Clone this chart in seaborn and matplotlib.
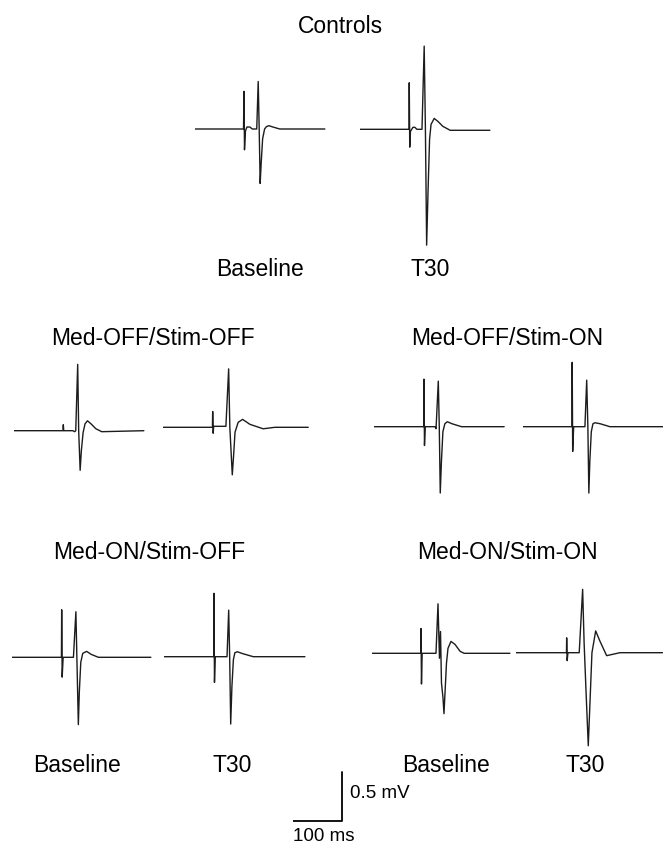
import matplotlib
matplotlib.use("Agg")
import matplotlib.pyplot as plt
import seaborn as sns
import pandas as pd

# ---------------- data (time in ms from trace start, amplitude in mV) ----------------
ctrl_base_t = [0, 99, 100, 101, 103, 106, 112, 117, 126, 129, 131, 133, 135, 138, 142, 146, 151, 159, 173, 265]
ctrl_base_v = [0, 0, 0.38, -0.21, -0.02, 0.02, 0.02, 0, 0, 0.48, 0.0, -0.55, -0.35, -0.10, 0.0, 0.025, 0.033, 0.02, 0, 0]

ctrl_t30_t = [0, 100, 100.5, 101.5, 103, 108, 112, 116, 126.5, 131, 133.5, 136, 139, 142, 145, 151.5, 159, 169, 184, 265]
ctrl_t30_v = [0, 0, 0.47, -0.18, -0.02, 0.02, 0.02, 0, 0, 0.84, 0, -1.17, -0.6, -0.1, 0.05, 0.11, 0.08, 0.03, -0.01, -0.01]

offoff_base_t = [0, 100, 100.6, 101.5, 120, 124, 126, 130, 132, 135, 137.5, 141, 145, 150, 157, 167, 179, 265]
offoff_base_v = [0, 0, 0.06, 0, 0, -0.01, 0, 0.67, 0, -0.40, -0.2, -0.02, 0.07, 0.10, 0.07, 0.02, -0.01, 0]

offoff_t30_t = [0, 101.5, 102, 103, 104, 129, 134.6, 137, 142, 144.5, 147.6, 154, 163, 178, 205, 229, 297]
offoff_t30_v = [0, 0, 0.16, -0.06, 0.01, 0.01, 0.59, 0, -0.48, -0.3, -0.05, 0.05, 0.08, 0.03, -0.015, 0, 0]

offon_base_t = [0, 101, 101.4, 102.4, 104, 124, 126, 130.6, 132.6, 134.6, 137, 140, 144, 149, 158.5, 178, 265]
offon_base_v = [0, 0, 0.48, -0.19, 0, 0, -0.02, 0.46, 0, -0.67, -0.35, -0.05, 0.03, 0.05, 0.03, 0, 0]

offon_t30_t = [0, 100.5, 101, 102, 104, 127, 130.6, 133, 135, 137, 140, 143.4, 147.5, 158, 178, 286]
offon_t30_v = [0, 0, 0.65, -0.25, 0, 0, 0.47, 0, -0.67, -0.35, -0.05, 0.03, 0.04, 0.03, 0, 0]

onoff_base_t = [0, 101.5, 102, 103, 105, 126, 131, 133, 136, 138, 141, 145, 153, 162, 177, 284]
onoff_base_v = [0, 0, 0.48, -0.20, 0, 0, 0.46, 0, -0.68, -0.35, -0.05, 0.04, 0.06, 0.03, 0, 0]

onoff_t30_t = [0, 101, 101.4, 102.4, 104, 128, 131.4, 133.4, 135.5, 138, 141, 144, 149, 160.5, 181.6, 287]
onoff_t30_v = [0, 0, 0.64, -0.26, 0, 0, 0.47, 0, -0.68, -0.3, -0.03, 0.04, 0.05, 0.03, 0, 0]

onon_base_t = [0, 100, 100.6, 101.6, 103, 131.2, 135.3, 138.3, 140.4, 142.4, 145.5, 147.5, 149.6, 152.6, 155.7, 161.8, 170, 180.4, 188.7, 282]
onon_base_v = [0, 0, 0.25, -0.31, 0, 0, 0.50, -0.05, 0.22, -0.3, -0.45, -0.61, -0.4, -0.1, 0.05, 0.12, 0.09, 0.02, 0, 0]

onon_t30_t = [0, 103, 103.4, 104.4, 106, 129, 136, 139, 143, 147.5, 151, 155, 162.6, 171, 185, 212, 299]
onon_t30_v = [0, 0, 0.15, -0.08, 0, 0, 0.64, 0.1, -0.4, -0.94, -0.5, 0, 0.22, 0.12, -0.03, 0, 0]

scale_t = [0, 100, 100]
scale_v = [0, 0, 0.5]

group_titles = ["Controls", "Med-OFF/Stim-OFF", "Med-OFF/Stim-ON", "Med-ON/Stim-OFF", "Med-ON/Stim-ON"]
cond_labels = ["Baseline", "T30"]
scale_labels = ["0.5 mV", "100 ms"]

# ---------------- layout ----------------
W, H = 663, 847
PX_PER_MS = 0.49
PX_PER_MV = 99.0
XLIM = (0, 310)
YLIM = (-1.3, 0.95)

sns.set_theme(style="white")
plt.rcParams["font.family"] = ["Liberation Sans", "DejaVu Sans"]

fig = plt.figure(figsize=(W / 100, H / 100), dpi=100)
fig.patch.set_facecolor("white")


def trace_axes(left_px, base_px):
    w = (XLIM[1] - XLIM[0]) * PX_PER_MS
    h = (YLIM[1] - YLIM[0]) * PX_PER_MV
    bottom_px = (H - base_px) + YLIM[0] * PX_PER_MV
    ax = fig.add_axes([left_px / W, bottom_px / H, w / W, h / H])
    ax.set_xlim(*XLIM)
    ax.set_ylim(*YLIM)
    ax.axis("off")
    ax.patch.set_alpha(0)
    return ax


traces = [
    (ctrl_base_t, ctrl_base_v, 195, 129),
    (ctrl_t30_t, ctrl_t30_v, 360, 129.3),
    (offoff_base_t, offoff_base_v, 14, 430.7),
    (offoff_t30_t, offoff_t30_v, 162.7, 427.3),
    (offon_base_t, offon_base_v, 374.3, 426.7),
    (offon_t30_t, offon_t30_v, 522.7, 426.7),
    (onoff_base_t, onoff_base_v, 11.7, 657.3),
    (onoff_t30_t, onoff_t30_v, 164.3, 656.7),
    (onon_base_t, onon_base_v, 371.7, 653.3),
    (onon_t30_t, onon_t30_v, 516, 652.7),
]

for t, v, x0, yb in traces:
    ax = trace_axes(x0, yb)
    df = pd.DataFrame({"t": t, "v": v})
    sns.lineplot(data=df, x="t", y="v", ax=ax, color="#1c1c1c", linewidth=1.0,
                 estimator=None, sort=False, legend=False)
    ax.axis("off")

# scale bar
sax = trace_axes(293, 821)
sns.lineplot(data=pd.DataFrame({"t": scale_t, "v": scale_v}), x="t", y="v", ax=sax,
             color="black", linewidth=1.3, estimator=None, sort=False, legend=False)
sax.axis("off")


def label(x, y, s, size=16.5, ha="center"):
    fig.text(x / W, 1 - y / H, s, ha=ha, va="baseline", fontsize=size, color="black")


label(340, 33.3, group_titles[0])
label(153, 345, group_titles[1])
label(507, 345, group_titles[2])
label(149, 559, group_titles[3])
label(507, 559, group_titles[4])

label(260, 276, cond_labels[0])
label(430.5, 276, cond_labels[1])
label(76.7, 771.7, cond_labels[0])
label(232.5, 771.7, cond_labels[1])
label(445.5, 771.7, cond_labels[0])
label(584.7, 771.7, cond_labels[1])

label(350, 798, scale_labels[0], size=13.5, ha="left")
label(293, 841, scale_labels[1], size=13.5, ha="left")

fig.savefig("out.png", dpi=100, facecolor="white")
